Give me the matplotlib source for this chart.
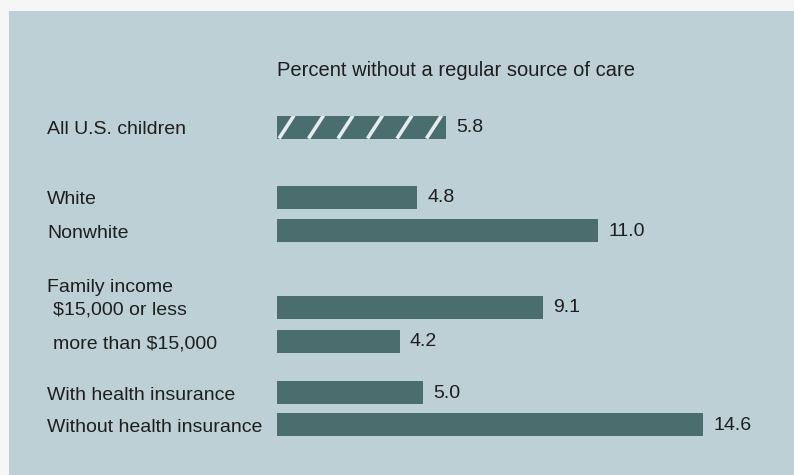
import matplotlib.pyplot as plt
from matplotlib.patches import Rectangle

# data
categories = ['All U.S. children', 'White', 'Nonwhite', '$15,000 or less',
              'more than $15,000', 'With health insurance', 'Without health insurance']
values = [5.8, 4.8, 11.0, 9.1, 4.2, 5.0, 14.6]
value_labels = ['5.8', '4.8', '11.0', '9.1', '4.2', '5.0', '14.6']
title = 'Percent without a regular source of care'
group_heading = 'Family income'

# layout (pixel rows, top-down)
bar_y = [127, 197, 230, 307, 341, 392, 424]
label_x = [47, 47, 47, 53, 53, 47, 47]
heading_y = 287
bar_h = 23
px_per_unit = 29.2
x0_px = 277

bg = '#bdd0d5'
bar_col = '#4a6d6e'
txt_col = '#1e1e1e'
font = 'Liberation Sans'
fs = 14

W, H = 794, 475
fig = plt.figure(figsize=(W / 100, H / 100), dpi=100)
fig.patch.set_facecolor('#f5f6f5')

ax = fig.add_axes([0, 0, 1, 1])
ax.set_xlim(-x0_px / px_per_unit, (W - x0_px) / px_per_unit)
ax.set_ylim(H, 0)
ax.axis('off')
ax.add_patch(Rectangle((9 / W, 0), 1, 1 - 11 / H, transform=ax.transAxes,
                       facecolor=bg, edgecolor='none', zorder=-10))

bars = ax.barh(bar_y, values, height=bar_h, color=bar_col, edgecolor='none')

# white diagonal stripes on the first bar
b = bars[0]
x_left, x_right = b.get_x(), b.get_x() + b.get_width()
y_top, y_bot = b.get_y(), b.get_y() + b.get_height()
step = 29.5 / px_per_unit
slant = 15 / px_per_unit
xs = x_left + 2 / px_per_unit
while xs < x_right:
    ln, = ax.plot([xs, xs + slant], [y_bot, y_top], color='#e4ecec', lw=2.6,
                  solid_capstyle='butt')
    ln.set_clip_path(b)
    xs += step

for v, y, lab in zip(values, bar_y, value_labels):
    ax.text(v + 10 / px_per_unit, y + 1, lab, va='center', ha='left',
            fontsize=fs, family=font, color=txt_col)

for cat, y, lx in zip(categories, bar_y, label_x):
    ax.text((lx - x0_px) / px_per_unit, y + 3, cat, va='center', ha='left',
            fontsize=fs, family=font, color=txt_col)
ax.text((47 - x0_px) / px_per_unit, heading_y, group_heading, va='center', ha='left',
        fontsize=fs, family=font, color=txt_col)
ax.text(0, 71, title, va='center', ha='left', fontsize=14.5, family=font, color=txt_col)

fig.savefig('out.png', dpi=100, facecolor=fig.get_facecolor())
